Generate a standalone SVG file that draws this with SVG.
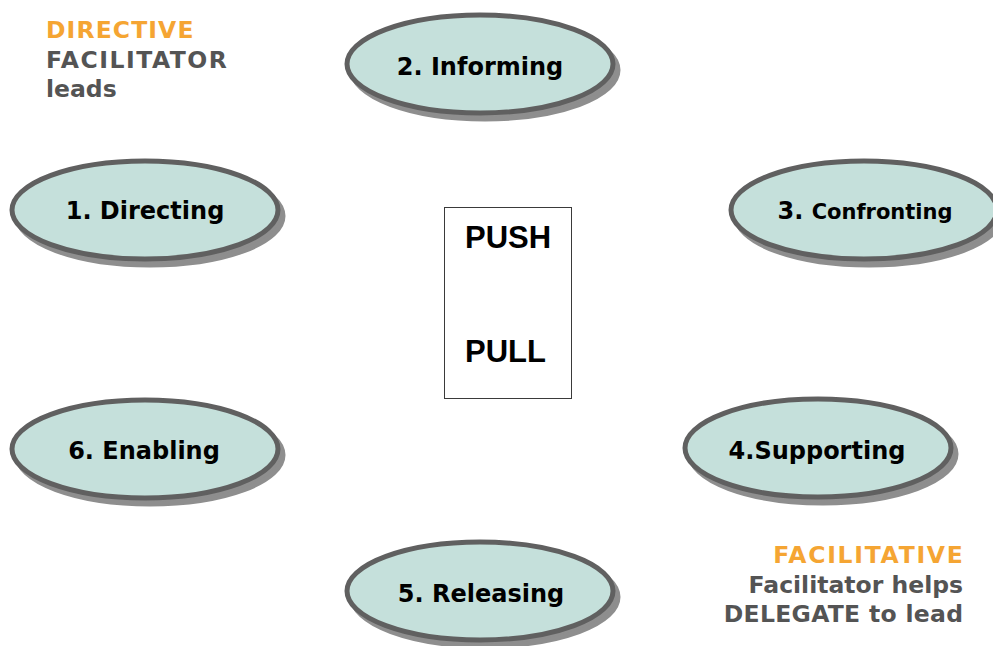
<svg xmlns="http://www.w3.org/2000/svg" width="993" height="646" viewBox="0 0 993 646">
  <style>
    .shadow { fill: #8e8e8e; stroke: #8e8e8e; stroke-width: 5; }
    .oval { fill: #c5e0db; stroke: #606060; stroke-width: 5; }
    .label { font-family: "DejaVu Sans", Verdana, sans-serif; font-weight: bold; font-size: 24px; fill: #000000; text-anchor: middle; }
    .note { font-family: "DejaVu Sans", Verdana, sans-serif; font-weight: bold; font-size: 23.5px; }
    .orange { fill: #f5a533; }
    .grey { fill: #545454; }
    .box-text { font-family: "Liberation Sans", Arial, sans-serif; font-weight: bold; font-size: 31px; fill: #000000; }
  </style>
  <defs>
    <ellipse id="ring" cx="0" cy="0" rx="133" ry="49"/>
  </defs>

  <rect width="993" height="646" fill="#ffffff"/>

  <!-- corner captions -->
  <g id="directive-caption">
    <text class="note orange" x="46" y="38" letter-spacing="1.1">DIRECTIVE</text>
    <text class="note grey" x="46" y="68" letter-spacing="1.5">FACILITATOR</text>
    <text class="note grey" x="46" y="97">leads</text>
  </g>
  <g id="facilitative-caption" text-anchor="end">
    <text class="note orange" x="964.5" y="563" letter-spacing="1.7">FACILITATIVE</text>
    <text class="note grey" x="963" y="593">Facilitator helps</text>
    <text class="note grey" x="963.3" y="622" letter-spacing="0.3">DELEGATE to lead</text>
  </g>

  <!-- centre push / pull box -->
  <g id="push-pull">
    <rect x="444.5" y="207.5" width="127" height="191" fill="#ffffff" stroke="#3a3a3a" stroke-width="1"/>
    <text class="box-text" x="465" y="248">PUSH</text>
    <text class="box-text" x="465" y="362">PULL</text>
  </g>

  <!-- connectors: none drawn -->
  <g id="connectors"></g>

  <!-- style nodes -->
  <g id="node-1">
    <use href="#ring" class="shadow" x="150" y="216"/>
    <use href="#ring" class="oval" x="145" y="210"/>
    <text class="label" x="145" y="219">1. Directing</text>
  </g>
  <g id="node-2">
    <use href="#ring" class="shadow" x="485" y="70"/>
    <use href="#ring" class="oval" x="480" y="64"/>
    <text class="label" x="480" y="75">2. Informing</text>
  </g>
  <g id="node-3">
    <use href="#ring" class="shadow" x="869" y="216"/>
    <use href="#ring" class="oval" x="864" y="210"/>
    <text class="label" x="865" y="219">3. <tspan font-size="21px">Confronting</tspan></text>
  </g>
  <g id="node-4">
    <use href="#ring" class="shadow" x="823" y="454"/>
    <use href="#ring" class="oval" x="818" y="448"/>
    <text class="label" x="817" y="459">4.Supporting</text>
  </g>
  <g id="node-5">
    <use href="#ring" class="shadow" x="485" y="597"/>
    <use href="#ring" class="oval" x="480" y="591"/>
    <text class="label" x="481" y="602">5. Releasing</text>
  </g>
  <g id="node-6">
    <use href="#ring" class="shadow" x="150" y="455"/>
    <use href="#ring" class="oval" x="145" y="449"/>
    <text class="label" x="144" y="459">6. Enabling</text>
  </g>
</svg>
